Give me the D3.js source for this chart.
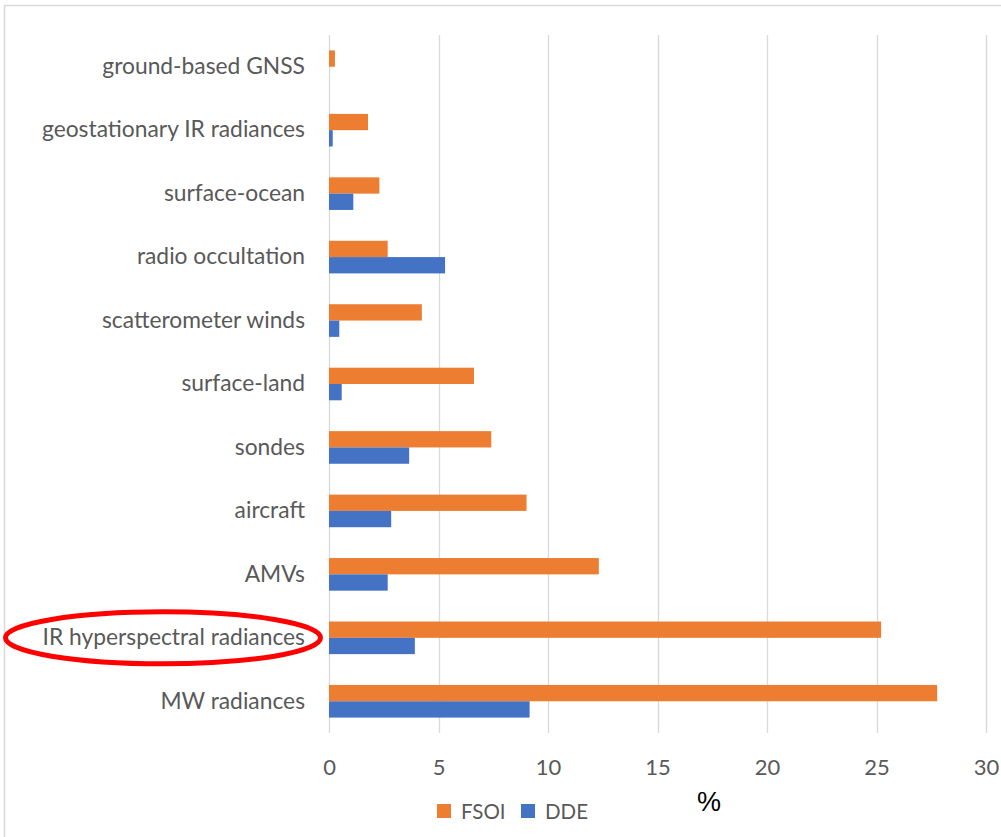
<!DOCTYPE html>
<html>
<head>
<meta charset="utf-8">
<script src="https://cdn.jsdelivr.net/npm/d3@7"></script>
<style>
  html, body { margin: 0; padding: 0; background: #fff; }
  svg { display: block; }
</style>
</head>
<body>
<svg id="chart" width="1001" height="837"></svg>
<script>
const categories = [
  "ground-based GNSS",
  "geostationary IR radiances",
  "surface-ocean",
  "radio occultation",
  "scatterometer winds",
  "surface-land",
  "sondes",
  "aircraft",
  "AMVs",
  "IR hyperspectral radiances",
  "MW radiances"
];
const seriesNames = ["FSOI", "DDE"];
const fsoi = [0.27, 1.78, 2.3, 2.68, 4.24, 6.62, 7.41, 9.02, 12.32, 25.21, 27.77];
const dde  = [0, 0.17, 1.11, 5.3, 0.47, 0.58, 3.66, 2.84, 2.68, 3.92, 9.16];
const xTicks = [0, 5, 10, 15, 20, 25, 30];
const colors = ["#ED7D31", "#4472C4"];
const highlighted = "IR hyperspectral radiances";

const svg = d3.select("#chart");
const textFont = "Lato, 'Open Sans', sans-serif";
const textColor = "#595959";

// outer chart border (light gray)
svg.append("path")
  .attr("d", "M4.5,837 L4.5,5.5 L1001,5.5")
  .attr("fill", "none")
  .attr("stroke", "#d9d9d9")
  .attr("stroke-width", 1.5);

const x = d3.scaleLinear().domain([0, 30]).range([329, 986]);
const y = d3.scaleBand().domain(categories).range([35, 733])
  .paddingInner(0.486).paddingOuter(0.243);
const ySub = d3.scaleBand().domain(seriesNames).range([0, y.bandwidth()]);

// gridlines
svg.append("g").selectAll("line").data(xTicks).join("line")
  .attr("x1", d => Math.round(x(d)) + 0.5)
  .attr("x2", d => Math.round(x(d)) + 0.5)
  .attr("y1", 35).attr("y2", 733)
  .attr("stroke", "#d9d9d9").attr("stroke-width", 1.3);

// x axis tick labels
const xAxis = d3.axisBottom(x).tickValues(xTicks).tickSize(0).tickPadding(0);
const gx = svg.append("g").attr("transform", "translate(0,733)").call(xAxis);
gx.select(".domain").remove();
gx.selectAll("text")
  .attr("y", 0).attr("dy", "0")
  .attr("transform", "translate(0,42)")
  .style("font-family", textFont)
  .style("font-size", "22px")
  .attr("fill", textColor);

// y axis labels
const yAxis = d3.axisLeft(y).tickSize(0).tickPadding(24);
const gy = svg.append("g").attr("transform", "translate(329,0)").call(yAxis);
gy.select(".domain").remove();
gy.selectAll("text")
  .style("font-family", textFont)
  .style("font-size", "22.8px")
  .attr("fill", textColor);

// bars
const rows = categories.map((c, i) => ({ cat: c, vals: [fsoi[i], dde[i]] }));
const groups = svg.append("g").selectAll("g").data(rows).join("g")
  .attr("transform", d => `translate(0,${y(d.cat)})`);
groups.selectAll("rect")
  .data(d => d.vals.map((v, j) => ({ key: seriesNames[j], v, j })))
  .join("rect")
  .filter(d => d.v > 0)
  .attr("x", x(0))
  .attr("y", d => ySub(d.key))
  .attr("width", d => x(d.v) - x(0))
  .attr("height", ySub.bandwidth())
  .attr("fill", d => colors[d.j]);

// legend
const legendX = [437, 521];
const lg = svg.append("g");
seriesNames.forEach((s, i) => {
  lg.append("rect").attr("x", legendX[i]).attr("y", 804).attr("width", 14).attr("height", 14)
    .attr("fill", colors[i]);
  lg.append("text").attr("x", legendX[i] + 24).attr("y", 818.5)
    .style("font-family", textFont).style("font-size", "20.5px")
    .attr("fill", textColor).text(s);
});

// % axis title
svg.append("text").attr("x", 709).attr("y", 811).attr("text-anchor", "middle")
  .style("font-family", "'Liberation Sans', Arial, sans-serif")
  .style("font-size", "27px").attr("fill", "#000").text("%");

// highlight ellipse around label
svg.append("ellipse")
  .attr("cx", 163)
  .attr("cy", y(highlighted) + y.bandwidth() / 2)
  .attr("rx", 157.5).attr("ry", 26)
  .attr("fill", "none").attr("stroke", "#FF0000").attr("stroke-width", 5);
</script>
</body>
</html>
